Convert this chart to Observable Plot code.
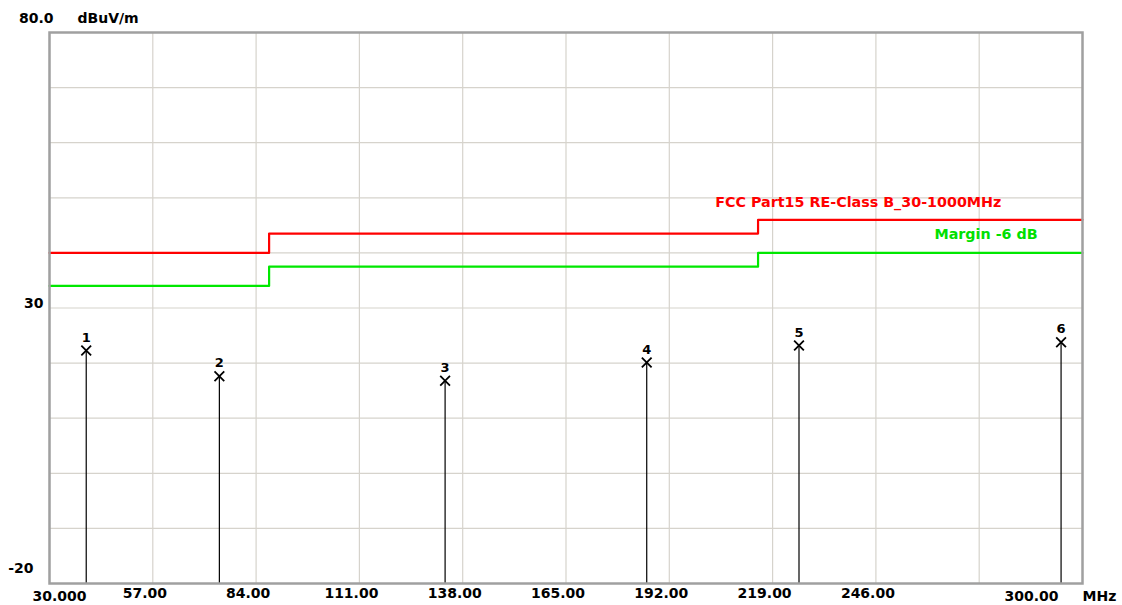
<!DOCTYPE html>
<html><head><meta charset="utf-8">
<script src="https://cdn.jsdelivr.net/npm/d3@7"></script>
<script src="https://cdn.jsdelivr.net/npm/@observablehq/plot@0.6"></script>
<style>body{margin:0;background:#fff}</style>
</head><body><div id="chart"></div>
<script>
const xTicks = [57, 84, 111, 138, 165, 192, 219, 246];
const xGrid = [30, 57, 84, 111, 138, 165, 192, 219, 246, 273, 300];
const yGrid = [-20, -10, 0, 10, 20, 30, 40, 50, 60, 70, 80];
const markerIds = [1, 2, 3, 4, 5, 6];
const markerFreq = [39.6, 74.4, 133.4, 186.1, 225.9, 294.4];
const markerLevel = [22.3, 17.6, 16.8, 20.1, 23.2, 23.8];
const limitFreq = [30, 87.4, 215.2, 300];
const limitLevel = [40, 43.5, 46, 46];
const marginLevel = [34, 37.5, 40, 40];
const limitName = "FCC Part15 RE-Class B_30-1000MHz";
const marginName = "Margin -6 dB";

const markers = markerIds.map((id, i) => ({id, f: markerFreq[i], v: markerLevel[i]}));
const limit = limitFreq.map((f, i) => ({f, v: limitLevel[i]}));
const margin = limitFreq.map((f, i) => ({f, v: marginLevel[i]}));

const font = "DejaVu Sans, Verdana, sans-serif";
const chart = Plot.plot({
  width: 1122, height: 605,
  marginLeft: 49, marginRight: 40, marginTop: 32, marginBottom: 22,
  style: {fontFamily: font, fontSize: "14px", fontWeight: "bold", background: "#fff", color: "#000"},
  x: {domain: [30, 300], axis: null},
  y: {domain: [-20, 80], axis: null},
  marks: [
    Plot.ruleX(xGrid, {stroke: "#d6d3cc", strokeWidth: 1.2}),
    Plot.ruleY(yGrid, {stroke: "#d6d3cc", strokeWidth: 1.2}),
    Plot.line(limit, {x: "f", y: "v", curve: "step-after", stroke: "#ff0000", strokeWidth: 2.2}),
    Plot.line(margin, {x: "f", y: "v", curve: "step-after", stroke: "#00e800", strokeWidth: 2.2}),
    Plot.text([limitName], {x: 204, y: 49.2, text: d => d, textAnchor: "start", fill: "#ff0000", fontSize: 14.3}),
    Plot.text([marginName], {x: 261.3, y: 43.3, text: d => d, textAnchor: "start", fill: "#00e000", fontSize: 14.3}),
    Plot.ruleX(markers, {x: "f", y1: -20, y2: "v", stroke: "#000", strokeWidth: 1.2}),
    Plot.dot(markers, {x: "f", y: "v", symbol: "times", r: 4.5, stroke: "#000", strokeWidth: 1.8}),
    Plot.text(markers, {x: "f", y: "v", text: "id", dy: -13, fontSize: 13, fill: "#000"}),
    Plot.frame({stroke: "#a0a0a0", strokeWidth: 2.5}),
    Plot.axisX(xTicks, {label: null, tickSize: 0, tickPadding: 5, dx: -8, tickFormat: d => d.toFixed(2), fontSize: 14, fontWeight: "bold"}),
    Plot.text(["30.000"], {x: 30, frameAnchor: "bottom", text: d => d, dx: 10, dy: 13, lineAnchor: "middle"}),
    Plot.text(["300.00"], {x: 300, frameAnchor: "bottom", text: d => d, dx: -51, dy: 13, lineAnchor: "middle"}),
    Plot.text(["MHz"], {x: 300, frameAnchor: "bottom", text: d => d, dx: 17, dy: 13, lineAnchor: "middle"}),
    Plot.text(["80.0"], {x: 30, y: 80, text: d => d, textAnchor: "end", dx: 4, dy: -14}),
    Plot.text(["dBuV/m"], {x: 30, y: 80, text: d => d, textAnchor: "start", dx: 28, dy: -14}),
    Plot.text(["30"], {x: 30, y: 30, text: d => d, textAnchor: "end", dx: -6, dy: -4}),
    Plot.text(["-20"], {x: 30, y: -20, text: d => d, textAnchor: "end", dx: -16, dy: -15})
  ]
});
document.getElementById("chart").appendChild(chart);
</script>
</body></html>
